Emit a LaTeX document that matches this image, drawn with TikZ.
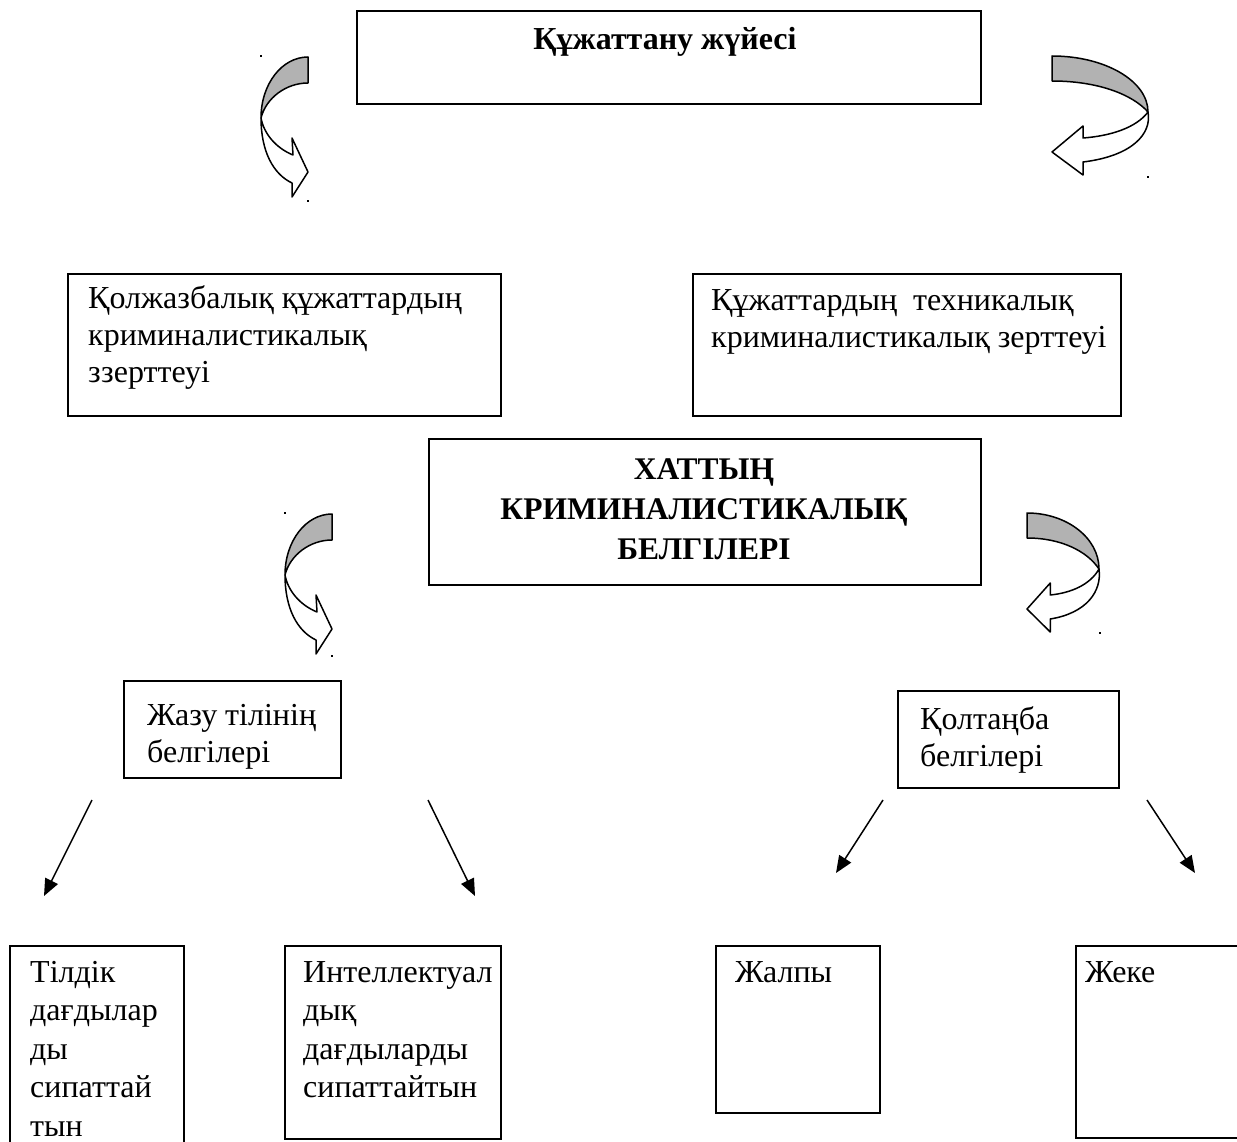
\documentclass[tikz,border=0pt]{standalone}
\usepackage{fontspec}
\setmainfont{Liberation Serif}
\usetikzlibrary{arrows.meta}
\definecolor{bandgray}{RGB}{178,178,178}
\tikzset{
  box/.style={draw, line width=1.6pt, inner sep=0pt, anchor=north west},
  txt/.style={inner sep=0pt, anchor=north west, align=left, font=\fontsize{32}{37}\selectfont},
  txtlow/.style={inner sep=0pt, anchor=north west, align=left, font=\fontsize{32}{38.5}\selectfont},
  band/.style={fill=bandgray, draw=black, line width=1.5pt, line join=round},
  bandwhite/.style={fill=white, draw=black, line width=1.5pt, line join=round},
  conn/.style={line width=1.5pt, -{Triangle[length=17pt,width=14pt]}},
  dot/.style={fill=black}
}
\newcommand\curvedRightArrow[2]{%
  \begin{scope}[shift={(#1,#2)}]
    \filldraw[band] (47,1) .. controls (21,1) and (0,28) .. (0,62)
      .. controls (5,42) and (25,27) .. (47,27) -- cycle;
    \filldraw[bandwhite] (0,62) .. controls (0,95) and (12,118) .. (31,127)
      -- (31,141) -- (47,116) -- (31,82) -- (32,99)
      .. controls (15,92) and (3,78) .. (0,62) -- cycle;
  \end{scope}}
\newcommand\curvedLeftArrow[3]{%
  \begin{scope}[shift={(#1,#2)}, xscale=#3]
    \filldraw[band] (0,0) .. controls (53,0) and (96,25) .. (96,56)
      .. controls (80,38) and (45,25) .. (0,25) -- cycle;
    \filldraw[bandwhite] (96,56) .. controls (100,78) and (80,100) .. (31,106)
      -- (31,119) -- (0,96) -- (31,70) -- (31,82)
      .. controls (58,80) and (84,72) .. (96,56) -- cycle;
  \end{scope}}
\begin{document}
\begin{tikzpicture}[x=1pt, y=-1pt]
  \useasboundingbox (0,0) rectangle (1237,1142);
  \clip (0,0) rectangle (1237,1142);
  \fill[white] (0,0) rectangle (1237,1142);

  % boxes
  \node[box, minimum width=624pt, minimum height=93pt] (sys) at (356,10) {};
  \node[box, minimum width=433pt, minimum height=142pt] (hand) at (67,273) {};
  \node[box, minimum width=428pt, minimum height=142pt] (tech) at (692,273) {};
  \node[box, minimum width=552pt, minimum height=146pt] (signs) at (428,438) {};
  \node[box, minimum width=217pt, minimum height=97pt] (lang) at (123,680) {};
  \node[box, minimum width=221pt, minimum height=97pt] (hw) at (897,690) {};
  \node[box, minimum width=174pt, minimum height=240pt] (ling) at (9,945) {};
  \node[box, minimum width=216pt, minimum height=193pt] (intel) at (284,945) {};
  \node[box, minimum width=164pt, minimum height=167pt] (gen) at (715,945) {};
  \node[box, minimum width=200pt, minimum height=192pt] (priv) at (1075,945) {};

  % texts
  \node[inner sep=0pt, anchor=base, font=\fontsize{32}{37}\selectfont\bfseries] (tsys) at (665,50) {Құжаттану жүйесі};
  \node[txt] (thand) at (88,282) {\strut Қолжазбалық құжаттардың\\криминалистикалық\\ззерттеуі};
  \node[txt] (ttech) at (711,284) {\strut Құжаттардың\ \ техникалық\\криминалистикалық зерттеуі};
  \node[inner sep=0pt, anchor=north, align=center, font=\fontsize{31.5}{40}\selectfont\bfseries] (tsigns) at (704,451) {\strut ХАТТЫҢ\\КРИМИНАЛИСТИКАЛЫҚ\\БЕЛГІЛЕРІ};
  \node[txt] (tlang) at (147,699) {\strut Жазу тілінің\\белгілері};
  \node[txt] (thw) at (920,703) {\strut Қолтаңба\\белгілері};
  \node[txtlow] (tling) at (30,955) {\strut Тілдік\\дағдылар\\ды\\сипаттай\\тын};
  \node[txtlow] (tintel) at (303,955) {\strut Интеллектуал\\дық\\дағдыларды\\сипаттайтын};
  \node[txtlow] (tgen) at (735,955) {\strut Жалпы};
  \node[txtlow] (tpriv) at (1085,955) {\strut Жеке};

  % curved arrows
  \curvedRightArrow{261}{56}
  \curvedRightArrow{285}{513}
  \curvedLeftArrow{1052}{56}{1}
  \curvedLeftArrow{1027}{513}{0.75}

  % small marks
  \foreach \px/\py in {261/56, 308/201, 1148/177, 285/513, 332/656, 1100/633}
    \fill[dot] (\px-1.2,\py-1.2) rectangle (\px+1.2,\py+1.2);

  % straight connectors
  \coordinate (a1s) at (92,800);
  \coordinate (a1e) at (44,896);
  \coordinate (a2s) at (428,800);
  \coordinate (a2e) at (475,896);
  \coordinate (a3s) at (883,800);
  \coordinate (a3e) at (836,873);
  \coordinate (a4s) at (1147,800);
  \coordinate (a4e) at (1195,873);
  \draw[conn] (a1s) -- (a1e);
  \draw[conn] (a2s) -- (a2e);
  \draw[conn] (a3s) -- (a3e);
  \draw[conn] (a4s) -- (a4e);
\end{tikzpicture}
\end{document}
